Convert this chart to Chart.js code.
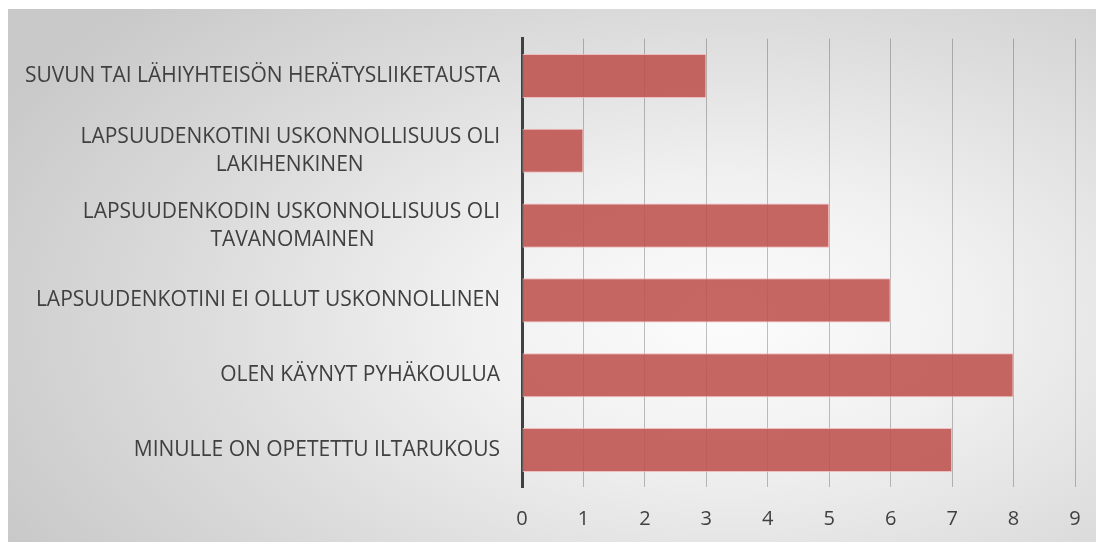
<!DOCTYPE html>
<html>
<head>
<meta charset="utf-8">
<script src="https://cdn.jsdelivr.net/npm/chart.js@4"></script>
<style>
  html, body { margin: 0; padding: 0; background: #fff; }
  body { width: 1096px; height: 542px; position: relative; overflow: hidden; }
  .bg {
    position: absolute; left: 8px; top: 9px; right: 0; bottom: 0;
    background: radial-gradient(ellipse 75% 85% at 66% 58%, #fcfcfc 0%, #f1f1f1 30%, #dcdcdc 65%, #c9c9c9 100%);
  }
  .wrap { position: absolute; left: 0; top: 0; width: 1096px; height: 542px; }
</style>
</head>
<body>
<div class="bg"></div>
<div class="wrap"><canvas id="chart"></canvas></div>
<script>
// categories, top to bottom
const categories = [
  'SUVUN TAI LÄHIYHTEISÖN HERÄTYSLIIKETAUSTA',
  ['LAPSUUDENKOTINI USKONNOLLISUUS OLI', 'LAKIHENKINEN'],
  ['LAPSUUDENKODIN USKONNOLLISUUS OLI', 'TAVANOMAINEN'],
  'LAPSUUDENKOTINI EI OLLUT USKONNOLLINEN',
  'OLEN KÄYNYT PYHÄKOULUA',
  'MINULLE ON OPETETTU ILTARUKOUS'
];
const values = [3, 1, 5, 6, 8, 7];
const tickValues = [0, 1, 2, 3, 4, 5, 6, 7, 8, 9];

const textColor = '#404040';
const fontFamily = "'Open Sans', sans-serif";
const labelSize = 21;

// wrapped labels are centred under their first line: pad the short lines
// with trailing spaces since the axis draws them right-aligned
const measureCtx = document.createElement('canvas').getContext('2d');
function centreLines(label) {
  if (!Array.isArray(label)) return label;
  measureCtx.font = `${labelSize}px ${fontFamily}`;
  const widest = Math.max(...label.map(l => measureCtx.measureText(l).width));
  const space = measureCtx.measureText(' ').width;
  return label.map(l => {
    const n = Math.round((widest - measureCtx.measureText(l).width) / 2 / space);
    return l + ' '.repeat(n);
  });
}

new Chart(document.getElementById('chart'), {
  type: 'bar',
  data: {
    labels: categories,
    datasets: [{
      data: values,
      backgroundColor: 'rgba(190,78,75,0.86)',
      borderColor: 'rgba(240,185,185,0.9)',
      borderWidth: 1,
      borderSkipped: false,
      categoryPercentage: 1,
      barPercentage: 0.59
    }]
  },
  options: {
    indexAxis: 'y',
    responsive: true,
    maintainAspectRatio: false,
    animation: false,
    layout: { padding: { top: 38.6, right: 21, bottom: 0, left: 0 } },
    plugins: { legend: { display: false }, tooltip: { enabled: false } },
    scales: {
      x: {
        min: tickValues[0],
        max: tickValues[tickValues.length - 1],
        afterBuildTicks: s => { s.ticks = tickValues.map(v => ({ value: v })); },
        // fixed axis band; tick padding shouldn't eat into the right side
        afterFit: s => { s.height = 54.6; s.paddingLeft = 0; s.paddingRight = 0; },
        grid: { color: 'rgba(0,0,0,0.24)', lineWidth: 1, drawTicks: false },
        border: { display: false },
        ticks: { color: textColor, padding: 20, font: { family: fontFamily, size: 20 } }
      },
      y: {
        afterFit: s => { s.width = 522; },
        grid: { display: false, drawTicks: false },
        border: { display: true, color: '#404040', width: 3 },
        ticks: {
          color: textColor,
          padding: 22,
          font: { family: fontFamily, size: labelSize, lineHeight: 1.34 },
          callback: (v, i) => centreLines(categories[i])
        }
      }
    }
  }
});
</script>
</body>
</html>
